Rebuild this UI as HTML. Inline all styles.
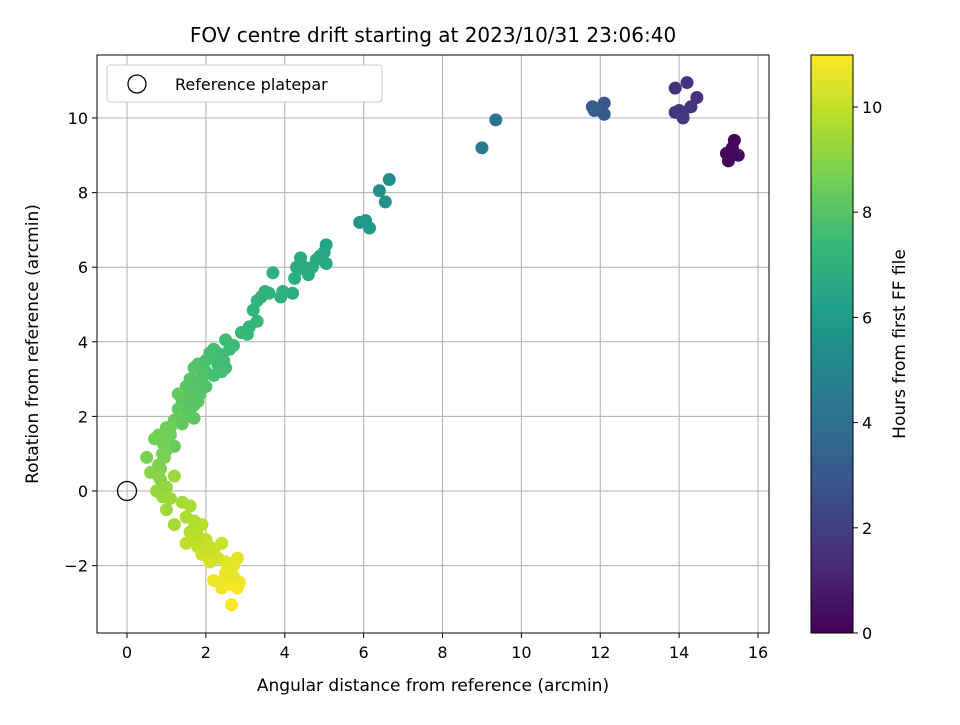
<!DOCTYPE html>
<html><head><meta charset="utf-8"><style>
body{margin:0;background:#fff;font-family:"Liberation Sans","DejaVu Sans",sans-serif}
svg text{font-family:"DejaVu Sans","Liberation Sans",sans-serif;fill:#000}
</style></head><body>
<svg id="chart" width="960" height="720" xmlns="http://www.w3.org/2000/svg">
<defs><linearGradient id="vg" x1="0" y1="1" x2="0" y2="0"></linearGradient></defs>
<rect width="960" height="720" fill="#fff"/>
<g id="grid"></g><g id="pts"></g>
<rect x="97" y="55" width="672" height="578" fill="none" stroke="#000" stroke-width="1"/>
<g id="axes"></g>
<text x="433" y="42" font-size="20" text-anchor="middle">FOV centre drift starting at 2023/10/31 23:06:40</text>
<text x="433" y="691" font-size="17" text-anchor="middle">Angular distance from reference (arcmin)</text>
<text transform="translate(38,344) rotate(-90)" font-size="17" text-anchor="middle">Rotation from reference (arcmin)</text>
<g>
<rect x="107" y="65" width="275" height="37" rx="3" fill="#fff" stroke="#ccc"/>
<circle cx="137" cy="84" r="9" fill="none" stroke="#000" stroke-width="1.3"/>
<text x="175" y="90" font-size="16">Reference platepar</text>
</g>
<rect x="811" y="55" width="42" height="578" fill="url(#vg)" stroke="#000"/>
<g id="cbax"></g>
<text transform="translate(905,344) rotate(-90)" font-size="17" text-anchor="middle">Hours from first FF file</text>
</svg>
<script>
const xTicks=[0,2,4,6,8,10,12,14,16];
const yTicks=[-2,0,2,4,6,8,10];
const cbTicks=[0,2,4,6,8,10];
const ptX=[15.2,15.25,15.4,15.35,15.5,15.3,13.9,14.2,13.9,14.0,14.1,14.3,14.45,14.1,11.8,11.85,12.1,12.1,11.9,9.35,9.0,6.4,6.65,6.55,5.9,6.05,6.15,
5.05,5.0,4.9,4.8,5.05,4.6,4.7,4.4,4.3,4.25,4.2,4.35,3.9,3.95,3.7,3.5,3.3,3.2,3.3,3.1,3.05,2.9,2.7,2.5,2.45,2.3,2.2,2.1,2.5,2.6,2.4,
2.0,1.9,1.8,1.7,1.6,2.0,1.85,1.7,1.6,1.5,1.4,1.3,1.5,1.7,1.8,1.2,1.1,1.0,0.9,0.7,0.8,0.5,0.8,0.6,0.95,0.85,0.75,1.0,0.9,
1.2,1.1,1.4,1.2,1.5,1.6,1.7,1.9,1.6,1.7,1.5,1.8,2.0,2.2,1.9,2.3,2.4,2.1,
2.6,2.8,2.5,2.7,2.2,2.4,2.6,2.8,2.85,2.65,2.5,
2.3,2.4,2.0,2.2,1.9,2.1,1.7,1.8,1.5,1.6,1.3,1.4,1.1,1.2,1.0,0.9,0.85,0.8,1.0,1.7,1.8,1.9,2.0,2.1,1.75,2.5,2.7,3.4,3.6,4.5,4.9];
const ptY=[9.05,8.85,9.4,9.2,9.0,9.1,10.8,10.95,10.15,10.2,10.0,10.3,10.55,10.15,10.3,10.2,10.4,10.1,10.25,9.95,9.2,8.05,8.35,7.75,7.2,7.25,7.05,
6.6,6.4,6.3,6.2,6.1,5.8,6.0,6.25,6.0,5.7,5.3,5.95,5.2,5.35,5.85,5.35,5.1,4.85,4.55,4.4,4.2,4.25,3.9,4.05,3.5,3.7,3.8,3.6,3.3,3.8,3.2,
3.2,3.0,3.4,3.3,3.0,2.8,2.6,2.3,2.6,2.8,2.4,2.2,2.0,1.95,2.4,1.9,1.5,1.7,1.3,1.4,1.5,0.9,0.7,0.5,0.9,0.3,0.0,0.1,-0.15,
0.4,-0.2,-0.3,-0.9,-0.7,-0.4,-0.8,-0.9,-1.1,-1.3,-1.4,-1.5,-1.3,-1.6,-1.7,-1.8,-1.4,-1.9,
-2.1,-1.8,-2.2,-2.0,-2.4,-2.6,-2.5,-2.6,-2.45,-3.05,-2.3,
3.4,3.6,3.5,3.1,3.1,3.7,2.9,2.7,2.5,2.2,2.6,1.8,1.7,1.2,1.1,1.0,0.6,0.4,-0.5,-1.0,-1.2,-1.4,-1.6,-1.5,-1.2,-1.9,-2.3,5.2,5.3,6.0,6.3];
const ptT=[0.1,0.15,0.2,0.25,0.3,0.2,1.5,1.6,1.7,1.8,1.9,1.7,1.6,1.8,3.0,3.1,2.9,3.0,3.2,4.3,4.5,5.5,5.4,5.6,5.8,5.9,6.0,
6.4,6.5,6.5,6.6,6.6,6.7,6.7,6.8,6.8,6.9,6.9,6.8,7.0,7.0,7.0,7.1,7.2,7.2,7.3,7.3,7.4,7.4,7.5,7.5,7.6,7.6,7.7,7.7,7.6,7.5,7.7,
7.8,7.9,7.9,8.0,8.0,7.9,8.1,8.2,8.1,8.1,8.2,8.3,8.3,8.2,8.1,8.4,8.5,8.5,8.6,8.6,8.6,8.7,8.9,9.0,8.8,9.1,9.2,9.2,9.3,
9.3,9.4,9.5,9.5,9.6,9.6,9.7,9.8,9.8,9.9,9.9,10.0,10.0,10.1,10.2,10.2,10.1,10.3,
10.6,10.5,10.7,10.6,10.8,10.8,10.9,10.9,10.8,11.0,10.7,
7.6,7.6,7.8,7.7,7.9,7.7,8.0,8.0,8.1,8.1,8.3,8.3,8.5,8.4,8.6,8.7,8.8,9.0,9.4,9.7,9.9,10.0,10.1,10.1,9.8,10.5,10.6,7.1,7.0,6.7,6.6];
const X0=127,XS=(758-127)/16,Y0=491,YS=(491-118)/10;
const sx=v=>X0+v*XS, sy=v=>Y0-v*YS, sc=v=>633-v*(633-107)/10;
const vir=[[68,1,84],[72,40,120],[62,74,137],[49,104,142],[38,130,142],[31,158,137],[53,183,121],[110,206,88],[181,222,43],[253,231,37]];
function col(t){let f=Math.max(0,Math.min(1,t/11))*(vir.length-1),i=Math.min(Math.floor(f),vir.length-2),u=f-i;
 const c=vir[i].map((a,k)=>Math.round(a+(vir[i+1][k]-a)*u));return `rgb(${c})`;}
const NS="http://www.w3.org/2000/svg";
function mk(tag,attrs,parent){const e=document.createElementNS(NS,tag);for(const k in attrs)e.setAttribute(k,attrs[k]);parent.appendChild(e);return e;}
const grid=document.getElementById('grid'),axes=document.getElementById('axes'),pts=document.getElementById('pts'),cb=document.getElementById('cbax');
const g=document.getElementById('vg');
vir.forEach((c,i)=>mk('stop',{offset:(i/(vir.length-1)),'stop-color':`rgb(${c})`},g));
xTicks.forEach(v=>{const x=sx(v);
 const l=mk('line',{x1:x,x2:x,y1:55,y2:633,stroke:'#b0b0b0','stroke-width':1},grid);
 
 mk('line',{x1:x,x2:x,y1:633,y2:638,stroke:'#000'},axes);
 const t=mk('text',{x:x,y:658,'font-size':16,'text-anchor':'middle'},axes);t.textContent=v<0?'\u2212'+(-v):v;
 });
yTicks.forEach(v=>{const y=sy(v);
 const l=mk('line',{x1:97,x2:769,y1:y,y2:y,stroke:'#b0b0b0','stroke-width':1},grid);
 
 mk('line',{x1:92,x2:97,y1:y,y2:y,stroke:'#000'},axes);
 const t=mk('text',{x:88,y:y+6,'font-size':16,'text-anchor':'end'},axes);t.textContent=v<0?'\u2212'+(-v):v;
 });
cbTicks.forEach(v=>{const y=sc(v);
 mk('line',{x1:853,x2:858,y1:y,y2:y,stroke:'#000'},cb);
 const t=mk('text',{x:862,y:y+6,'font-size':16},cb);t.textContent=v;
 });
ptX.forEach((x,i)=>{const c=mk('circle',{cx:sx(x),cy:sy(ptY[i]),r:6.5,fill:col(ptT[i])},pts);
 });
const r=mk('circle',{cx:sx(0),cy:sy(0),r:9.5,fill:'none',stroke:'#000','stroke-width':1.3},pts);

</script>
</body></html>
